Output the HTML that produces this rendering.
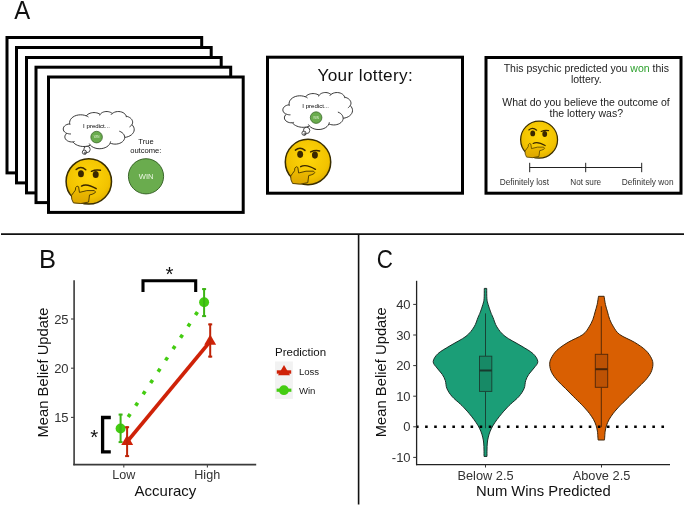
<!DOCTYPE html>
<html><head><meta charset="utf-8"><style>
html,body{margin:0;padding:0;background:#fff;}
body{width:685px;height:506px;overflow:hidden;}
svg{display:block;}
text{font-family:"Liberation Sans",sans-serif;}
svg{will-change:transform;}
</style></head><body>
<svg width="685" height="506" viewBox="0 0 685 506">
<defs>
<radialGradient id="fg" cx="0.5" cy="0.4" r="0.6">
 <stop offset="0" stop-color="#ffd60a"/>
 <stop offset="0.75" stop-color="#f2c300"/>
 <stop offset="1" stop-color="#e0ae00"/>
</radialGradient>
<linearGradient id="hg" x1="0" y1="0" x2="0" y2="1">
 <stop offset="0" stop-color="#f2c000"/>
 <stop offset="1" stop-color="#dca600"/>
</linearGradient>
<symbol id="think" viewBox="-25 -25 50 50" overflow="visible">
 <circle cx="0" cy="0" r="22.3" fill="url(#fg)" stroke="#3a2e00" stroke-width="1.5"/>
 <ellipse cx="-7.7" cy="-7.5" rx="2.9" ry="3.5" fill="#3a2800"/>
 <ellipse cx="6.8" cy="-6.8" rx="2.9" ry="3.5" fill="#3a2800"/>
 <path d="M-12.4,-11.7 Q-7.7,-15.6 -3.0,-11.4" fill="none" stroke="#3a2800" stroke-width="1.5" stroke-linecap="round"/>
 <path d="M2.6,-9.9 Q7,-12 11.4,-10.9" fill="none" stroke="#3a2800" stroke-width="1.5" stroke-linecap="round"/>
 <path d="M-7.2,4.6 Q-2,1.6 7.3,7.2" fill="none" stroke="#3a2800" stroke-width="1.4" stroke-linecap="round"/>
 <path d="M-13.2,8.6 L-12.9,6.0 Q-11.7,3.6 -10.0,5.3 L-9.2,10.8 Q-2,8.2 5.4,9.0 Q7.6,10.5 5.8,11.5 Q3,13 0.7,13.3 L-0.2,20.3 Q-8,22.8 -15.1,21.1 Q-17.4,17.6 -17,13.8 Q-15,11 -13.2,8.6 Z" fill="url(#hg)" stroke="#4a3800" stroke-width="0.9" stroke-linejoin="round"/>
</symbol>
</defs>
<rect width="685" height="506" fill="#fff"/>
<!-- Panel A -->
<text transform="translate(14.2,19.1) scale(0.91,1)" font-size="26.2" fill="#111">A</text>
<rect x="7.0" y="37.5" width="194.7" height="135.4" fill="#fff" stroke="#000" stroke-width="3"/>
<rect x="16.5" y="47.5" width="194.7" height="135.4" fill="#fff" stroke="#000" stroke-width="3"/>
<rect x="26.5" y="57.5" width="194.7" height="135.4" fill="#fff" stroke="#000" stroke-width="3"/>
<rect x="36.0" y="67.2" width="194.7" height="135.4" fill="#fff" stroke="#000" stroke-width="3"/>
<rect x="48.5" y="77.0" width="194.7" height="135.4" fill="#fff" stroke="#000" stroke-width="3"/>
<circle cx="87" cy="149.4" r="3.2" fill="#fff" stroke="#222" stroke-width="0.8"/><circle cx="84.4" cy="152.2" r="2.1" fill="#fff" stroke="#222" stroke-width="0.8"/><circle cx="85.2" cy="153" r="1" fill="none" stroke="#222" stroke-width="0.7"/>
<path d="M69.70,123.77 L69.61,122.30 L69.91,120.85 L70.58,119.45 L71.60,118.17 L72.93,117.05 L74.53,116.12 L76.35,115.42 L78.31,114.98 L80.36,114.80 L82.42,114.89 L84.42,115.26 L86.29,115.88 L87.01,115.06 L87.91,114.33 L88.95,113.71 L90.11,113.21 L91.37,112.85 L92.69,112.63 L94.04,112.56 L95.39,112.63 L96.71,112.86 L97.96,113.23 L99.12,113.73 L100.15,114.36 L100.78,113.62 L101.58,112.97 L102.51,112.42 L103.56,111.99 L104.70,111.70 L105.89,111.54 L107.10,111.54 L108.29,111.67 L109.44,111.95 L110.50,112.36 L111.45,112.90 L112.26,113.54 L113.33,112.79 L114.58,112.20 L115.97,111.79 L117.43,111.57 L118.93,111.54 L120.41,111.72 L121.82,112.10 L123.10,112.65 L124.21,113.37 L125.12,114.22 L125.78,115.17 L126.19,116.20 L127.36,116.50 L128.47,116.91 L129.48,117.43 L130.38,118.04 L131.15,118.75 L131.77,119.52 L132.23,120.35 L132.52,121.22 L132.64,122.10 L132.58,122.99 L132.34,123.87 L131.93,124.71 L132.97,125.87 L133.71,127.14 L134.13,128.49 L134.22,129.86 L133.98,131.23 L133.41,132.54 L132.53,133.77 L131.37,134.87 L129.96,135.81 L128.34,136.56 L126.57,137.10 L124.69,137.41 L124.53,138.60 L124.07,139.75 L123.35,140.83 L122.36,141.80 L121.16,142.63 L119.77,143.29 L118.23,143.77 L116.60,144.05 L114.93,144.13 L113.26,143.99 L111.66,143.64 L110.17,143.10 L109.38,144.48 L108.24,145.73 L106.80,146.81 L105.11,147.67 L103.21,148.29 L101.19,148.65 L99.11,148.73 L97.05,148.53 L95.07,148.06 L93.26,147.33 L91.66,146.37 L90.35,145.21 L88.85,145.76 L87.27,146.16 L85.63,146.42 L83.96,146.51 L82.28,146.44 L80.63,146.22 L79.04,145.84 L77.53,145.31 L76.13,144.64 L74.86,143.85 L73.76,142.95 L72.83,141.94 L71.37,141.96 L69.95,141.77 L68.61,141.37 L67.40,140.79 L66.39,140.05 L65.61,139.18 L65.09,138.21 L64.85,137.19 L64.91,136.16 L65.26,135.16 L65.89,134.22 L66.77,133.40 L65.57,132.77 L64.58,131.97 L63.84,131.04 L63.39,130.02 L63.24,128.96 L63.40,127.90 L63.87,126.88 L64.62,125.96 L65.62,125.17 L66.82,124.54 L68.18,124.11 L69.64,123.89 Z" fill="#fff" stroke="#222" stroke-width="0.9"/><path d="M71.00,133.94 L70.28,133.96 L69.56,133.92 L68.85,133.83 L68.16,133.69 L67.49,133.49 L66.84,133.25 M74.67,141.45 L74.38,141.53 L74.08,141.60 L73.78,141.66 L73.47,141.71 L73.16,141.75 L72.85,141.78 M90.34,145.06 L90.13,144.82 L89.93,144.58 L89.74,144.33 L89.56,144.08 L89.40,143.82 L89.25,143.56 M110.61,141.32 L110.57,141.60 L110.52,141.88 L110.45,142.15 L110.37,142.43 L110.28,142.70 L110.17,142.97 M119.31,131.17 L120.83,131.83 L122.15,132.68 L123.23,133.69 L124.02,134.82 L124.50,136.05 L124.65,137.31 M131.90,124.62 L131.61,125.06 L131.28,125.47 L130.90,125.87 L130.48,126.25 L130.02,126.60 L129.52,126.93 M126.20,116.07 L126.24,116.25 L126.27,116.43 L126.30,116.61 L126.31,116.80 L126.32,116.98 L126.32,117.16 M111.02,114.80 L111.19,114.56 L111.37,114.31 L111.56,114.08 L111.77,113.85 L112.00,113.63 L112.24,113.42 M99.64,115.46 L99.71,115.26 L99.79,115.05 L99.88,114.85 L99.98,114.65 L100.10,114.46 L100.23,114.27 M86.28,115.87 L86.66,116.04 L87.03,116.22 L87.39,116.41 L87.74,116.60 L88.08,116.81 L88.41,117.03 M70.07,125.00 L69.99,124.80 L69.92,124.59 L69.85,124.39 L69.79,124.19 L69.74,123.98 L69.70,123.77 " fill="none" stroke="#222" stroke-width="0.9"/>
<text x="96.5" y="127.8" font-size="6.1" text-anchor="middle" fill="#000">I predict...</text>
<circle cx="96.6" cy="137.1" r="5.8" fill="#6aac4e" stroke="#2f5a1f" stroke-width="0.7"/><text x="96.6" y="138.2" font-size="3" text-anchor="middle" fill="#dff0d0">WIN</text>
<use href="#think" x="63.35" y="155.95" width="50.9" height="50.9" />
<text x="146" y="143.9" font-size="7.6" text-anchor="middle" fill="#111">True</text>
<text x="145.8" y="152.9" font-size="7.6" text-anchor="middle" fill="#111">outcome:</text>
<circle cx="146" cy="176.3" r="17.6" fill="#6aac4e" stroke="#2f5a1f" stroke-width="0.9"/>
<text x="146.2" y="179.1" font-size="7.6" text-anchor="middle" fill="#eef8e6">WIN</text>
<rect x="267.5" y="57.2" width="195" height="136" fill="#fff" stroke="#000" stroke-width="3"/>
<text x="365.3" y="80.9" font-size="17.2" text-anchor="middle" fill="#111" letter-spacing="0.35">Your lottery:</text>
<circle cx="306.6" cy="130.4" r="3.2" fill="#fff" stroke="#222" stroke-width="0.8"/><circle cx="304" cy="133.2" r="2.1" fill="#fff" stroke="#222" stroke-width="0.8"/><circle cx="304.8" cy="134" r="1" fill="none" stroke="#222" stroke-width="0.7"/>
<path d="M289.18,104.71 L289.10,103.24 L289.39,101.80 L290.05,100.41 L291.05,99.14 L292.36,98.02 L293.93,97.10 L295.71,96.40 L297.64,95.96 L299.65,95.78 L301.67,95.87 L303.63,96.24 L305.46,96.86 L306.18,96.04 L307.06,95.32 L308.08,94.70 L309.22,94.21 L310.45,93.84 L311.75,93.62 L313.07,93.55 L314.40,93.63 L315.69,93.85 L316.92,94.22 L318.06,94.72 L319.08,95.34 L319.70,94.61 L320.48,93.96 L321.39,93.41 L322.43,92.99 L323.54,92.70 L324.71,92.54 L325.90,92.53 L327.07,92.67 L328.19,92.95 L329.23,93.36 L330.17,93.89 L330.96,94.52 L332.02,93.78 L333.24,93.20 L334.60,92.79 L336.04,92.57 L337.51,92.54 L338.96,92.72 L340.34,93.09 L341.60,93.64 L342.69,94.35 L343.58,95.20 L344.24,96.15 L344.63,97.18 L345.79,97.47 L346.87,97.88 L347.87,98.40 L348.75,99.01 L349.51,99.71 L350.11,100.48 L350.57,101.30 L350.85,102.16 L350.97,103.05 L350.91,103.93 L350.67,104.80 L350.27,105.64 L351.29,106.80 L352.02,108.06 L352.43,109.40 L352.52,110.76 L352.29,112.12 L351.73,113.43 L350.86,114.65 L349.72,115.74 L348.34,116.68 L346.75,117.42 L345.01,117.96 L343.16,118.27 L343.00,119.45 L342.56,120.60 L341.85,121.67 L340.88,122.63 L339.70,123.46 L338.33,124.12 L336.82,124.60 L335.22,124.88 L333.58,124.95 L331.95,124.81 L330.37,124.47 L328.91,123.93 L328.13,125.30 L327.02,126.55 L325.60,127.62 L323.94,128.48 L322.08,129.09 L320.10,129.45 L318.05,129.53 L316.03,129.33 L314.09,128.86 L312.31,128.13 L310.74,127.18 L309.45,126.03 L307.99,126.58 L306.43,126.98 L304.82,127.23 L303.18,127.32 L301.53,127.25 L299.91,127.03 L298.35,126.65 L296.87,126.13 L295.49,125.46 L294.25,124.68 L293.17,123.78 L292.25,122.78 L290.83,122.80 L289.43,122.60 L288.11,122.21 L286.93,121.63 L285.93,120.90 L285.16,120.03 L284.65,119.07 L284.42,118.05 L284.48,117.03 L284.82,116.03 L285.44,115.10 L286.31,114.28 L285.13,113.65 L284.16,112.86 L283.43,111.93 L282.99,110.92 L282.84,109.87 L283.00,108.81 L283.46,107.80 L284.19,106.88 L285.17,106.09 L286.36,105.47 L287.69,105.04 L289.12,104.82 Z" fill="#fff" stroke="#222" stroke-width="0.9"/><path d="M290.46,114.82 L289.75,114.83 L289.05,114.80 L288.35,114.71 L287.67,114.57 L287.01,114.38 L286.38,114.14 M294.06,122.29 L293.77,122.37 L293.48,122.44 L293.18,122.50 L292.88,122.55 L292.58,122.59 L292.28,122.62 M309.45,125.88 L309.24,125.64 L309.04,125.40 L308.86,125.16 L308.68,124.90 L308.52,124.65 L308.37,124.39 M329.34,122.16 L329.31,122.44 L329.25,122.72 L329.19,122.99 L329.11,123.26 L329.02,123.53 L328.91,123.80 M337.89,112.06 L339.38,112.72 L340.67,113.56 L341.73,114.57 L342.50,115.70 L342.97,116.91 L343.12,118.17 M350.24,105.55 L349.96,105.98 L349.63,106.40 L349.26,106.79 L348.85,107.17 L348.40,107.52 L347.91,107.84 M344.64,97.05 L344.68,97.23 L344.72,97.41 L344.74,97.59 L344.76,97.77 L344.77,97.95 L344.77,98.13 M329.75,95.78 L329.91,95.54 L330.08,95.30 L330.28,95.06 L330.48,94.84 L330.71,94.62 L330.94,94.40 M318.57,96.44 L318.64,96.24 L318.72,96.03 L318.81,95.83 L318.91,95.64 L319.03,95.44 L319.15,95.25 M305.46,96.85 L305.83,97.01 L306.20,97.19 L306.55,97.38 L306.90,97.58 L307.23,97.78 L307.55,98.00 M289.55,105.92 L289.47,105.72 L289.40,105.52 L289.33,105.32 L289.28,105.12 L289.23,104.91 L289.18,104.71 " fill="none" stroke="#222" stroke-width="0.9"/>
<text x="315.7" y="108.3" font-size="6.1" text-anchor="middle" fill="#000">I predict...</text>
<circle cx="316.1" cy="117.6" r="5.8" fill="#6aac4e" stroke="#2f5a1f" stroke-width="0.7"/><text x="316.1" y="118.7" font-size="3" text-anchor="middle" fill="#dff0d0">WIN</text>
<use href="#think" x="282.55" y="136.55" width="50.9" height="50.9" />
<rect x="486" y="57.5" width="195" height="135.7" fill="#fff" stroke="#000" stroke-width="3"/>
<text x="586.3" y="72" font-size="10.5" text-anchor="middle" fill="#222">This psychic predicted you <tspan fill="#2ca02c">won</tspan> this</text>
<text x="586.3" y="83.2" font-size="10.5" text-anchor="middle" fill="#222">lottery.</text>
<text x="586" y="105.8" font-size="10.5" text-anchor="middle" fill="#222">What do you believe the outcome of</text>
<text x="586.3" y="117" font-size="10.5" text-anchor="middle" fill="#222">the lottery was?</text>
<use href="#think" x="518.4" y="118.95" width="41.4" height="41.4" />
<g stroke="#222" stroke-width="1"><line x1="529.7" y1="167.5" x2="641.7" y2="167.5"/><line x1="529.7" y1="162.8" x2="529.7" y2="172.2"/><line x1="585.7" y1="162.8" x2="585.7" y2="172.2"/><line x1="641.7" y1="162.8" x2="641.7" y2="172.2"/></g>
<text x="524.4" y="184.7" font-size="8.3" text-anchor="middle" fill="#333">Definitely lost</text>
<text x="585.7" y="184.7" font-size="8.2" text-anchor="middle" fill="#333">Not sure</text>
<text x="647.7" y="184.7" font-size="8.3" text-anchor="middle" fill="#333">Definitely won</text>
<line x1="1" y1="234.2" x2="684" y2="234.2" stroke="#111" stroke-width="1.8"/>
<line x1="358.6" y1="234" x2="358.6" y2="504.5" stroke="#111" stroke-width="1.6"/>
<text x="38.9" y="267.9" font-size="25.5" fill="#111">B</text>
<g stroke="#3a3a3a" stroke-width="1.6" fill="none"><line x1="74.1" y1="280.3" x2="74.1" y2="465.2"/><line x1="73.3" y1="464.6" x2="256.2" y2="464.6"/></g><g stroke="#444" stroke-width="1.1"><line x1="71" y1="417.4" x2="74" y2="417.4"/><line x1="71" y1="368.2" x2="74" y2="368.2"/><line x1="71" y1="319.0" x2="74" y2="319.0"/><line x1="123.8" y1="464.6" x2="123.8" y2="467.6"/><line x1="207.4" y1="464.6" x2="207.4" y2="467.6"/></g>
<text x="68.6" y="422.0" font-size="13" text-anchor="end" fill="#333">15</text>
<text x="68.6" y="372.8" font-size="13" text-anchor="end" fill="#333">20</text>
<text x="68.6" y="323.6" font-size="13" text-anchor="end" fill="#333">25</text>
<text x="123.8" y="479.3" font-size="12.6" text-anchor="middle" fill="#333">Low</text>
<text x="207.2" y="479.3" font-size="12.6" text-anchor="middle" fill="#333">High</text>
<text x="165.4" y="495.7" font-size="15" text-anchor="middle" fill="#111">Accuracy</text>
<text transform="translate(47.6,372.6) rotate(-90)" font-size="14.8" text-anchor="middle" fill="#111">Mean Belief Update</text>
<path d="M143,292 L143,280.7 L195.7,280.7 L195.7,292" fill="none" stroke="#000" stroke-width="3.1"/>
<text x="169.6" y="280.6" font-size="20.5" text-anchor="middle" fill="#111">*</text>
<path d="M110.8,417.5 L102.6,417.5 L102.6,451.8 L110.8,451.8" fill="none" stroke="#000" stroke-width="3.3"/>
<text x="94.35" y="444.4" font-size="20.5" text-anchor="middle" fill="#111">*</text>
<line x1="120.6" y1="428.5" x2="204.1" y2="302" stroke="#44cc11" stroke-width="3.6" stroke-dasharray="3.6 9.97" stroke-dashoffset="-0.2"/>
<line x1="127.2" y1="441.6" x2="210.2" y2="341.4" stroke="#cf2208" stroke-width="3.8"/>
<circle cx="120.6" cy="428.5" r="5.0" fill="#44cc11"/>
<circle cx="204.1" cy="302.3" r="5.0" fill="#44cc11"/>
<g stroke="#3cb414" stroke-width="2"><line x1="120.6" y1="413.8" x2="120.6" y2="442.9"/><line x1="118.6" y1="414.6" x2="122.6" y2="414.6"/><line x1="118.6" y1="442.09999999999997" x2="122.6" y2="442.09999999999997"/></g>
<g stroke="#3cb414" stroke-width="2"><line x1="204.1" y1="288.3" x2="204.1" y2="316.9"/><line x1="202.1" y1="289.1" x2="206.1" y2="289.1"/><line x1="202.1" y1="316.09999999999997" x2="206.1" y2="316.09999999999997"/></g>
<path d="M127.2,434.73 L133.15,445.04 L121.25,445.04 Z" fill="#cf2208"/>
<path d="M210.2,334.53 L216.15,344.84 L204.25,344.84 Z" fill="#cf2208"/>
<g stroke="#be2408" stroke-width="2"><line x1="127.1" y1="426.4" x2="127.1" y2="456.9"/><line x1="125.1" y1="427.2" x2="129.1" y2="427.2"/><line x1="125.1" y1="456.09999999999997" x2="129.1" y2="456.09999999999997"/></g>
<g stroke="#be2408" stroke-width="2"><line x1="210.2" y1="323.6" x2="210.2" y2="357.4"/><line x1="208.2" y1="324.40000000000003" x2="212.2" y2="324.40000000000003"/><line x1="208.2" y1="356.59999999999997" x2="212.2" y2="356.59999999999997"/></g>
<text x="275" y="355.8" font-size="11.5" fill="#111">Prediction</text>
<rect x="275" y="361.5" width="17.9" height="37.4" fill="#f2f2f2"/>
<line x1="276.8" y1="372" x2="291.2" y2="372" stroke="#cf2208" stroke-width="3.4"/><path d="M284,364.97 L290.00,375.36 L278.00,375.36 Z" fill="#cf2208"/>
<line x1="276.6" y1="390.2" x2="291.4" y2="390.2" stroke="#44cc11" stroke-width="3.2"/><circle cx="283.9" cy="390.2" r="4.9" fill="#44cc11"/>
<text x="298.9" y="375.1" font-size="9.6" fill="#222">Loss</text>
<text x="298.9" y="393.8" font-size="9.6" fill="#222">Win</text>
<text transform="translate(376.8,268.1) scale(0.874,1)" font-size="25.6" fill="#111">C</text>
<path d="M484.30,288.40 L486.70,288.40 C486.73,290.13 486.67,296.13 486.90,298.80 C487.13,301.47 487.48,302.22 488.10,304.40 C488.72,306.58 489.78,309.72 490.60,311.90 C491.42,314.08 491.95,315.00 493.00,317.50 C494.05,320.00 494.90,323.77 496.90,326.90 C498.90,330.03 500.98,333.15 505.00,336.30 C509.02,339.45 516.32,342.90 521.00,345.80 C525.68,348.70 530.30,351.07 533.10,353.70 C535.90,356.33 537.63,359.23 537.80,361.60 C537.97,363.97 535.60,365.78 534.10,367.90 C532.60,370.02 530.20,372.18 528.80,374.30 C527.40,376.42 526.48,378.23 525.70,380.60 C524.92,382.97 525.22,385.87 524.10,388.50 C522.98,391.13 521.28,393.77 519.00,396.40 C516.72,399.03 512.60,402.20 510.40,404.30 C508.20,406.40 507.22,407.48 505.80,409.00 C504.38,410.52 503.33,411.68 501.90,413.40 C500.47,415.12 498.65,417.33 497.20,419.30 C495.75,421.27 494.37,423.23 493.20,425.20 C492.03,427.17 491.02,429.12 490.20,431.10 C489.38,433.08 488.78,435.12 488.30,437.10 C487.82,439.08 487.52,440.85 487.30,443.00 C487.08,445.15 487.05,447.77 487.00,450.00 C486.95,452.23 487.00,455.33 487.00,456.40 L484.00,456.40 C484.00,455.33 484.05,452.23 484.00,450.00 C483.95,447.77 483.92,445.15 483.70,443.00 C483.48,440.85 483.18,439.08 482.70,437.10 C482.22,435.12 481.62,433.08 480.80,431.10 C479.98,429.12 478.97,427.17 477.80,425.20 C476.63,423.23 475.25,421.27 473.80,419.30 C472.35,417.33 470.53,415.12 469.10,413.40 C467.67,411.68 466.62,410.52 465.20,409.00 C463.78,407.48 462.80,406.40 460.60,404.30 C458.40,402.20 454.28,399.03 452.00,396.40 C449.72,393.77 448.02,391.13 446.90,388.50 C445.78,385.87 446.08,382.97 445.30,380.60 C444.52,378.23 443.60,376.42 442.20,374.30 C440.80,372.18 438.40,370.02 436.90,367.90 C435.40,365.78 433.03,363.97 433.20,361.60 C433.37,359.23 435.10,356.33 437.90,353.70 C440.70,351.07 445.32,348.70 450.00,345.80 C454.68,342.90 461.98,339.45 466.00,336.30 C470.02,333.15 472.10,330.03 474.10,326.90 C476.10,323.77 476.95,320.00 478.00,317.50 C479.05,315.00 479.58,314.08 480.40,311.90 C481.22,309.72 482.28,306.58 482.90,304.40 C483.52,302.22 483.87,301.47 484.10,298.80 C484.33,296.13 484.27,290.13 484.30,288.40 Z" fill="#1b9e77" stroke="#1a2e28" stroke-width="1.0"/>
<path d="M598.50,296.30 L604.10,296.30 C604.32,297.65 604.83,301.80 605.40,304.40 C605.97,307.00 606.78,309.40 607.50,311.90 C608.22,314.40 608.70,316.90 609.70,319.40 C610.70,321.90 611.82,324.37 613.50,326.90 C615.18,329.43 616.30,332.03 619.80,334.60 C623.30,337.17 630.20,339.70 634.50,342.30 C638.80,344.90 642.78,347.55 645.60,350.20 C648.42,352.85 650.18,355.77 651.40,358.20 C652.62,360.63 653.00,362.38 652.90,364.80 C652.80,367.22 652.10,370.07 650.80,372.70 C649.50,375.33 647.38,377.97 645.10,380.60 C642.82,383.23 639.73,385.87 637.10,388.50 C634.47,391.13 631.93,393.77 629.30,396.40 C626.67,399.03 623.37,402.20 621.30,404.30 C619.23,406.40 618.25,407.48 616.90,409.00 C615.55,410.52 614.48,411.68 613.20,413.40 C611.92,415.12 610.30,417.33 609.20,419.30 C608.10,421.27 607.27,423.23 606.60,425.20 C605.93,427.17 605.52,429.12 605.20,431.10 C604.88,433.08 604.82,435.62 604.70,437.10 C604.58,438.58 604.53,439.52 604.50,440.00 L598.10,440.00 C598.07,439.52 598.02,438.58 597.90,437.10 C597.78,435.62 597.72,433.08 597.40,431.10 C597.08,429.12 596.67,427.17 596.00,425.20 C595.33,423.23 594.50,421.27 593.40,419.30 C592.30,417.33 590.68,415.12 589.40,413.40 C588.12,411.68 587.05,410.52 585.70,409.00 C584.35,407.48 583.37,406.40 581.30,404.30 C579.23,402.20 575.93,399.03 573.30,396.40 C570.67,393.77 568.13,391.13 565.50,388.50 C562.87,385.87 559.78,383.23 557.50,380.60 C555.22,377.97 553.10,375.33 551.80,372.70 C550.50,370.07 549.80,367.22 549.70,364.80 C549.60,362.38 549.98,360.63 551.20,358.20 C552.42,355.77 554.18,352.85 557.00,350.20 C559.82,347.55 563.80,344.90 568.10,342.30 C572.40,339.70 579.30,337.17 582.80,334.60 C586.30,332.03 587.42,329.43 589.10,326.90 C590.78,324.37 591.90,321.90 592.90,319.40 C593.90,316.90 594.38,314.40 595.10,311.90 C595.82,309.40 596.63,307.00 597.20,304.40 C597.77,301.80 598.28,297.65 598.50,296.30 Z" fill="#d95f02" stroke="#3e2408" stroke-width="1.0"/>
<g stroke="#183a2e" stroke-width="0.9"><line x1="485.5" y1="313.4" x2="485.5" y2="356.2"/><line x1="485.5" y1="391.4" x2="485.5" y2="428.2"/></g>
<rect x="479.5" y="356.2" width="12.3" height="35.2" fill="#178a66" stroke="#1a4234" stroke-width="0.95"/>
<line x1="479.5" y1="370.5" x2="491.8" y2="370.5" stroke="#183a2e" stroke-width="2"/>
<g stroke="#4a2508" stroke-width="0.9"><line x1="601.3" y1="306.3" x2="601.3" y2="354.3"/><line x1="601.3" y1="387.3" x2="601.3" y2="427.2"/></g>
<rect x="595.3" y="354.3" width="12.4" height="33" fill="#bd5204" stroke="#55290a" stroke-width="0.95"/>
<line x1="595.2" y1="369.2" x2="607.6" y2="369.2" stroke="#4a2508" stroke-width="2"/>
<line x1="416.0" y1="426.8" x2="664.1" y2="426.8" stroke="#000" stroke-width="2.6" stroke-dasharray="2.6 6.49"/>
<g stroke="#222" stroke-width="1.3" fill="none"><line x1="416.6" y1="280.8" x2="416.6" y2="465.2"/><line x1="416" y1="464.6" x2="670" y2="464.6"/></g><g stroke="#333" stroke-width="1.0"><line x1="413.2" y1="304.4" x2="416.6" y2="304.4"/><line x1="413.2" y1="335.0" x2="416.6" y2="335.0"/><line x1="413.2" y1="365.6" x2="416.6" y2="365.6"/><line x1="413.2" y1="396.2" x2="416.6" y2="396.2"/><line x1="413.2" y1="426.8" x2="416.6" y2="426.8"/><line x1="413.2" y1="457.4" x2="416.6" y2="457.4"/><line x1="485.5" y1="464.6" x2="485.5" y2="467.5"/><line x1="601.5" y1="464.6" x2="601.5" y2="467.5"/></g>
<text x="410.6" y="309.0" font-size="13" text-anchor="end" fill="#333">40</text>
<text x="410.6" y="339.6" font-size="13" text-anchor="end" fill="#333">30</text>
<text x="410.6" y="370.2" font-size="13" text-anchor="end" fill="#333">20</text>
<text x="410.6" y="400.8" font-size="13" text-anchor="end" fill="#333">10</text>
<text x="410.6" y="431.4" font-size="13" text-anchor="end" fill="#333">0</text>
<text x="410.6" y="462.0" font-size="13" text-anchor="end" fill="#333">-10</text>
<text x="485.5" y="479.6" font-size="12.8" text-anchor="middle" fill="#333">Below 2.5</text>
<text x="601.5" y="479.6" font-size="12.8" text-anchor="middle" fill="#333">Above 2.5</text>
<text x="543.4" y="495.5" font-size="14.8" text-anchor="middle" fill="#111">Num Wins Predicted</text>
<text transform="translate(385.8,372.3) rotate(-90)" font-size="14.8" text-anchor="middle" fill="#111">Mean Belief Update</text>
</svg>
</body></html>
